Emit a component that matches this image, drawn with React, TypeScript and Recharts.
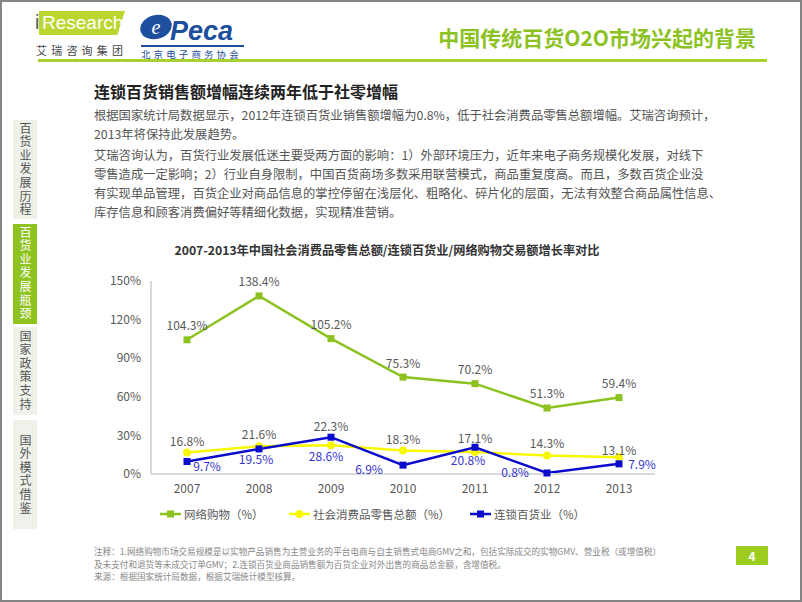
import * as React from 'react';
import { LineChart, Line, XAxis, YAxis, Legend, LabelList } from 'recharts';

const years = ['2007', '2008', '2009', '2010', '2011', '2012', '2013'];
const onlineGrowth = [104.3, 138.4, 105.2, 75.3, 70.2, 51.3, 59.4];
const retailGrowth = [16.8, 21.6, 22.3, 18.3, 17.1, 14.3, 13.1];
const chainGrowth = [9.7, 19.5, 28.6, 6.9, 20.8, 0.8, 7.9];
const yTicks = [0, 30, 60, 90, 120, 150];

const onlineName = '网络购物（%）';
const retailName = '社会消费品零售总额（%）';
const chainName = '连锁百货业（%）';

const chartTitle = '2007-2013年中国社会消费品零售总额/连锁百货业/网络购物交易额增长率对比';
const pageTitle = '中国传统百货O2O市场兴起的背景';
const heading = '连锁百货销售额增幅连续两年低于社零增幅';
const bodyLines = [
  '根据国家统计局数据显示，2012年连锁百货业销售额增幅为0.8%，低于社会消费品零售总额增幅。艾瑞咨询预计，',
  '2013年将保持此发展趋势。',
  '艾瑞咨询认为，百货行业发展低迷主要受两方面的影响：1）外部环境压力，近年来电子商务规模化发展，对线下',
  '零售造成一定影响；2）行业自身限制，中国百货商场多数采用联营模式，商品重复度高。而且，多数百货企业没',
  '有实现单品管理，百货企业对商品信息的掌控停留在浅层化、粗略化、碎片化的层面，无法有效整合商品属性信息、',
  '库存信息和顾客消费偏好等精细化数据，实现精准营销。',
];
const noteLines = [
  '注释：1.网络购物市场交易规模是以实物产品销售为主营业务的平台电商与自主销售式电商GMV之和，包括实际成交的实物GMV、营业税（或增值税）',
  '及未支付和退货等未成交订单GMV；2.连锁百货业商品销售额为百货企业对外出售的商品总金额，含增值税。',
  '来源：根据国家统计局数据，根据艾瑞统计模型核算。',
];
const navTabs = ['百货业发展历程', '百货业发展瓶颈', '国家政策支持', '国外模式借鉴'];

const GREEN = '#8cc21f';
const YELLOW = '#f8f800';
const BLUE = '#0b0bcc';
const FONT = '"Noto Sans CJK SC", "Noto Sans", sans-serif';

const data = years.map((year, i) => ({
  year,
  online: onlineGrowth[i],
  retail: retailGrowth[i],
  chain: chainGrowth[i],
}));

// label nudges (px), to keep the labels off each other like the original
const retailDy = [-12, -13, -20, -12, -14, -13, -8];
const chainNudge = [[20, 4], [-3, 10], [-5, 18], [-34, 3], [-7, 12], [-32, -1], [23, 0]];

const squareDot = (color: string) => (props: any) => {
  const { cx, cy, index } = props;
  return <rect key={`sq-${color}-${index}`} x={cx - 3.5} y={cy - 3.5} width={7} height={7} fill={color} />;
};

const roundDot = (color: string) => (props: any) => {
  const { cx, cy, index } = props;
  return <circle key={`rd-${index}`} cx={cx} cy={cy} r={4} fill={color} />;
};

const labelText = (x: number, y: number, text: string, fill: string) => (
  <text x={x} y={y} textAnchor="middle" dominantBaseline="central" fontSize={12} fill={fill} fontFamily={FONT}>
    {text}
  </text>
);

const onlineLabel = (p: any) => labelText(p.x, p.y - 15, `${p.value}%`, '#595959');
const retailLabel = (p: any) => labelText(p.x, p.y + retailDy[p.index], `${p.value}%`, '#595959');
const chainLabel = (p: any) =>
  labelText(p.x + chainNudge[p.index][0], p.y + chainNudge[p.index][1], `${p.value}%`, '#3535cc');

const legendItems = [
  { name: onlineName, color: GREEN, round: false, left: 78 },
  { name: retailName, color: YELLOW, round: true, left: 207 },
  { name: chainName, color: BLUE, round: false, left: 388 },
];

const renderLegend = () => (
  <div style={{ position: 'relative', height: 20 }}>
    {legendItems.map((it) => (
      <div key={it.name} style={{ position: 'absolute', left: it.left, top: 0, height: 20, display: 'flex', alignItems: 'center' }}>
        <svg width={21} height={10} style={{ marginRight: 3 }}>
          <line x1={0} y1={5} x2={21} y2={5} stroke={it.color} strokeWidth={2.5} />
          {it.round
            ? <circle cx={10.5} cy={5} r={4} fill={it.color} />
            : <rect x={7} y={1.5} width={7} height={7} fill={it.color} />}
        </svg>
        <span style={{ fontSize: 11.5, color: '#595959', fontFamily: FONT, whiteSpace: 'nowrap' }}>{it.name}</span>
      </div>
    ))}
  </div>
);

export default function App() {
  return (
    <div style={{ position: 'absolute', left: 0, top: 0, width: 802, height: 602, background: '#fff',
      border: '2px solid #858585', boxSizing: 'border-box', fontFamily: FONT, overflow: 'hidden' }}>
      {/* logos */}
      <div style={{ position: 'absolute', left: 33, top: 9, fontSize: 20, color: '#5a5a5a', fontFamily: '"Liberation Sans", sans-serif' }}>i</div>
      <div style={{ position: 'absolute', left: 37, top: 9, width: 86, height: 24, background: '#bcd630',
        clipPath: 'polygon(0 0, 100% 0, 91% 100%, 0 100%)' }}>
        <div style={{ position: 'absolute', left: 3, top: 0, fontSize: 19, lineHeight: '24px', color: '#fff', fontFamily: '"Liberation Sans", sans-serif' }}>Research</div>
      </div>
      <div style={{ position: 'absolute', left: 34, top: 40, fontSize: 11, letterSpacing: 4.2, color: '#444', whiteSpace: 'nowrap' }}>艾瑞咨询集团</div>
      <svg style={{ position: 'absolute', left: 136, top: 10 }} width={40} height={34}>
        <ellipse cx={18} cy={15} rx={16} ry={12} fill="#1d4f9e" transform="rotate(-15 18 15)" />
        <text x={18} y={22} textAnchor="middle" fontSize={20} fontStyle="italic" fill="#fff" fontFamily="'Liberation Serif', serif">e</text>
      </svg>
      <div style={{ position: 'absolute', left: 168, top: 14, fontSize: 27, fontWeight: 700, fontStyle: 'italic', color: '#1d4f9e',
        lineHeight: '30px', fontFamily: '"Liberation Sans", sans-serif' }}>Peca</div>
      <div style={{ position: 'absolute', left: 139, top: 43, width: 103, height: 2, background: '#1d4f9e' }} />
      <div style={{ position: 'absolute', left: 139, top: 45, fontSize: 9.5, letterSpacing: 3.1, color: '#1d4f9e', whiteSpace: 'nowrap' }}>北京电子商务协会</div>

      <div style={{ position: 'absolute', right: 44, top: 20, fontSize: 21, fontWeight: 700, color: GREEN, whiteSpace: 'nowrap', lineHeight: '30px' }}>{pageTitle}</div>
      <div style={{ position: 'absolute', left: 36, top: 57, width: 729, height: 3, background: '#a8d030' }} />

      {/* side nav */}
      {navTabs.map((t, i) => {
        const tops = [118, 222, 325, 418];
        const bottoms = [217, 322, 413, 527];
        const active = i === 1;
        return (
          <div key={t} style={{ position: 'absolute', left: 11, top: tops[i], width: 24, height: bottoms[i] - tops[i],
            background: active ? '#8fc31f' : '#eef2ea', display: 'flex', alignItems: 'center', justifyContent: 'center' }}>
            <div style={{ writingMode: 'vertical-rl', fontSize: 12, letterSpacing: 1.6, lineHeight: '14px',
              color: active ? '#fff' : '#555', whiteSpace: 'nowrap' }}>{t}</div>
          </div>
        );
      })}

      {/* text */}
      <div style={{ position: 'absolute', left: 92, top: 78, fontSize: 16, fontWeight: 700, color: '#222', whiteSpace: 'nowrap', lineHeight: '22px' }}>{heading}</div>
      {bodyLines.map((l, i) => {
        const ys = [113, 132, 153, 172, 191, 210];
        return (
          <div key={i} style={{ position: 'absolute', left: 92, top: ys[i] - 10, fontSize: 12.3, lineHeight: '20px', color: '#555', whiteSpace: 'nowrap' }}>{l}</div>
        );
      })}

      {/* chart */}
      <div style={{ position: 'absolute', left: 80, top: 238, width: 610, textAlign: 'center', fontSize: 12.2, fontWeight: 700,
        color: '#333', whiteSpace: 'nowrap', lineHeight: '20px' }}>{chartTitle}</div>
      <div style={{ position: 'absolute', left: 80, top: 260 }}>
        <LineChart width={620} height={270} data={data} margin={{ top: 19, right: 47, left: 0, bottom: 8 }}>
          <XAxis dataKey="year" axisLine={{ stroke: '#d9d9d9', strokeWidth: 2 }} tickLine={false} tickMargin={4}
            padding={{ left: 36, right: 36 }} height={30} tick={{ fontSize: 12, fill: '#595959', fontFamily: FONT }} />
          <YAxis width={69} domain={[0, 150]} ticks={yTicks} tickFormatter={(v) => `${v}%`} interval={0}
            axisLine={{ stroke: '#d9d9d9', strokeWidth: 2 }} tickLine={false} tickMargin={4}
            tick={{ fontSize: 12, fill: '#595959', fontFamily: FONT }} />
          <Legend verticalAlign="bottom" height={20} content={renderLegend} />
          <Line dataKey="online" name={onlineName} stroke={GREEN} strokeWidth={2.5} dot={squareDot(GREEN)}
            activeDot={false} isAnimationActive={false}>
            <LabelList dataKey="online" content={onlineLabel} />
          </Line>
          <Line dataKey="retail" name={retailName} stroke={YELLOW} strokeWidth={2.5} dot={roundDot(YELLOW)}
            activeDot={false} isAnimationActive={false}>
            <LabelList dataKey="retail" content={retailLabel} />
          </Line>
          <Line dataKey="chain" name={chainName} stroke={BLUE} strokeWidth={2.5} dot={squareDot(BLUE)}
            activeDot={false} isAnimationActive={false}>
            <LabelList dataKey="chain" content={chainLabel} />
          </Line>
        </LineChart>
      </div>

      {/* notes */}
      {noteLines.map((l, i) => (
        <div key={i} style={{ position: 'absolute', left: 92, top: 543 + i * 12.5, fontSize: 8.6, lineHeight: '12px', color: '#888', whiteSpace: 'nowrap' }}>{l}</div>
      ))}
      <div style={{ position: 'absolute', left: 734, top: 544, width: 32, height: 19, background: '#9ccc1e', color: '#fff',
        fontSize: 12, fontWeight: 700, textAlign: 'center', lineHeight: '19px' }}>4</div>
    </div>
  );
}
